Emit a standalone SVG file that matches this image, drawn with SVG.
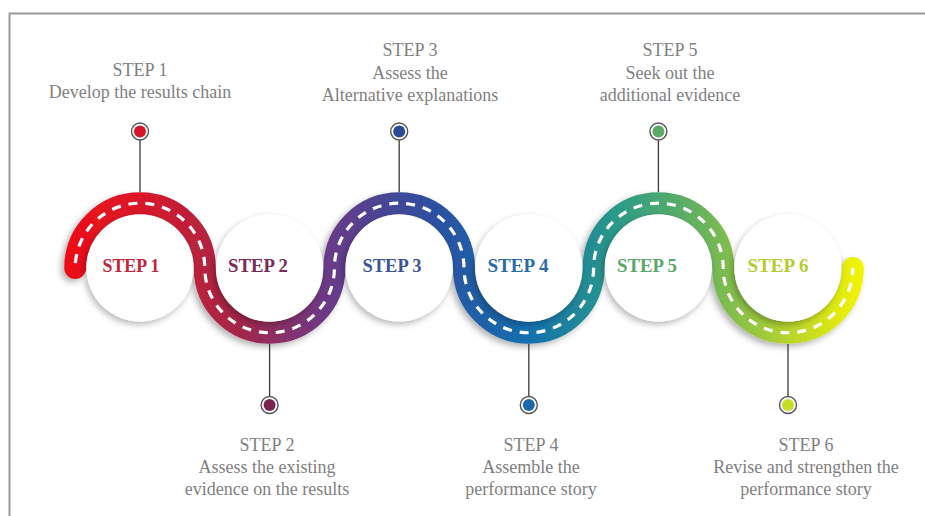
<svg xmlns="http://www.w3.org/2000/svg" width="925" height="516" viewBox="0 0 925 516">
  <style>
    .lbl { font-family: "Liberation Serif", "Times New Roman", serif; font-size: 18px; fill: #7f7f7f; text-anchor: middle; }
    .stp { font-family: "Liberation Serif", "Times New Roman", serif; font-size: 19px; font-weight: bold; text-anchor: middle; }
    .disc { fill: #ffffff; filter: url(#cshadow); }
    .stem { stroke: #3a3a3a; stroke-width: 1.3; fill: none; }
    .ring { fill: #ffffff; stroke: #555555; stroke-width: 1.4; }
  </style>
  <defs>
    <linearGradient id="road" gradientUnits="userSpaceOnUse" x1="64" y1="0" x2="865" y2="0">
      <stop offset="0" stop-color="#ee0e16"/>
      <stop offset="0.1" stop-color="#d8182a"/>
      <stop offset="0.22" stop-color="#a3284a"/>
      <stop offset="0.33" stop-color="#6a3a88"/>
      <stop offset="0.46" stop-color="#2c50a0"/>
      <stop offset="0.58" stop-color="#1470b0"/>
      <stop offset="0.69" stop-color="#2a9a88"/>
      <stop offset="0.8" stop-color="#6ab45a"/>
      <stop offset="0.9" stop-color="#b4d230"/>
      <stop offset="1" stop-color="#f6f600"/>
    </linearGradient>
    <filter id="cshadow" x="-30%" y="-30%" width="160%" height="160%">
      <feDropShadow dx="-2" dy="3" stdDeviation="3" flood-color="#000" flood-opacity="0.28"/>
    </filter>
    <filter id="rshadow" x="-10%" y="-30%" width="120%" height="160%">
      <feDropShadow dx="-3" dy="3" stdDeviation="3" flood-color="#000" flood-opacity="0.3"/>
    </filter>
  </defs>

  <rect x="9.5" y="13.5" width="1000" height="600" fill="none" stroke="#999999" stroke-width="2"/>

  <g id="connectors">
    <path d="M75.2,268 A64.8,64.8 0 0 1 204.8,268 A64.8,64.8 0 0 0 334.4,268 A64.8,64.8 0 0 1 464,268 A64.8,64.8 0 0 0 593.6,268 A64.8,64.8 0 0 1 723.2,268 A64.8,64.8 0 0 0 852.8,268" fill="none" stroke="url(#road)" stroke-width="22" stroke-linecap="round" filter="url(#rshadow)"/>
    <path d="M75.2,268 A64.8,64.8 0 0 1 204.8,268 A64.8,64.8 0 0 0 334.4,268 A64.8,64.8 0 0 1 464,268 A64.8,64.8 0 0 0 593.6,268 A64.8,64.8 0 0 1 723.2,268 A64.8,64.8 0 0 0 852.8,268" fill="none" stroke="#ffffff" stroke-width="3.2" stroke-dasharray="9 8" stroke-dashoffset="-5"/>
    <line class="stem" x1="140" y1="140" x2="140" y2="192"/>
    <line class="stem" x1="269.6" y1="344" x2="269.6" y2="397"/>
    <line class="stem" x1="399.2" y1="140" x2="399.2" y2="192"/>
    <line class="stem" x1="528.8" y1="344" x2="528.8" y2="397"/>
    <line class="stem" x1="658.4" y1="140" x2="658.4" y2="192"/>
    <line class="stem" x1="788" y1="344" x2="788" y2="397"/>
  </g>

  <g id="step1">
    <circle class="disc" cx="140" cy="268" r="53.5"/>
    <text class="stp" x="131" y="272" fill="#c3243a" textLength="57" lengthAdjust="spacingAndGlyphs">STEP 1</text>
    <circle class="ring" cx="140" cy="131.5" r="8.5"/>
    <circle cx="140" cy="131.5" r="6" fill="#d5162a"/>
    <text class="lbl" x="140" y="76">STEP 1</text>
    <text class="lbl" x="140" y="98">Develop the results chain</text>
  </g>

  <g id="step2">
    <circle class="disc" cx="269.6" cy="268" r="53.5"/>
    <text class="stp" x="258" y="272" fill="#7a2a58" textLength="60" lengthAdjust="spacingAndGlyphs">STEP 2</text>
    <circle class="ring" cx="269.6" cy="405" r="8.5"/>
    <circle cx="269.6" cy="405" r="6" fill="#7a2450"/>
    <text class="lbl" x="267" y="451">STEP 2</text>
    <text class="lbl" x="267" y="473">Assess the existing</text>
    <text class="lbl" x="267" y="495">evidence on the results</text>
  </g>

  <g id="step3">
    <circle class="disc" cx="399.2" cy="268" r="53.5"/>
    <text class="stp" x="392" y="272" fill="#3c5598" textLength="59" lengthAdjust="spacingAndGlyphs">STEP 3</text>
    <circle class="ring" cx="399.2" cy="131.5" r="8.5"/>
    <circle cx="399.2" cy="131.5" r="6" fill="#2a4a98"/>
    <text class="lbl" x="410" y="56">STEP 3</text>
    <text class="lbl" x="410" y="79">Assess the</text>
    <text class="lbl" x="410" y="101">Alternative explanations</text>
  </g>

  <g id="step4">
    <circle class="disc" cx="528.8" cy="268" r="53.5"/>
    <text class="stp" x="518" y="272" fill="#2a6aa8" textLength="61" lengthAdjust="spacingAndGlyphs">STEP 4</text>
    <circle class="ring" cx="528.8" cy="405" r="8.5"/>
    <circle cx="528.8" cy="405" r="6" fill="#1a6aaa"/>
    <text class="lbl" x="531" y="451">STEP 4</text>
    <text class="lbl" x="531" y="473">Assemble the</text>
    <text class="lbl" x="531" y="495">performance story</text>
  </g>

  <g id="step5">
    <circle class="disc" cx="658.4" cy="268" r="53.5"/>
    <text class="stp" x="647" y="272" fill="#5aa868" textLength="60" lengthAdjust="spacingAndGlyphs">STEP 5</text>
    <circle class="ring" cx="658.4" cy="131.5" r="8.5"/>
    <circle cx="658.4" cy="131.5" r="6" fill="#5aaa68"/>
    <text class="lbl" x="670" y="56">STEP 5</text>
    <text class="lbl" x="670" y="79">Seek out the</text>
    <text class="lbl" x="670" y="101">additional evidence</text>
  </g>

  <g id="step6">
    <circle class="disc" cx="788" cy="268" r="53.5"/>
    <text class="stp" x="778" y="272" fill="#b4cc2e" textLength="61" lengthAdjust="spacingAndGlyphs">STEP 6</text>
    <circle class="ring" cx="788" cy="405" r="8.5"/>
    <circle cx="788" cy="405" r="6" fill="#c8dc28"/>
    <text class="lbl" x="806" y="451">STEP 6</text>
    <text class="lbl" x="806" y="473">Revise and strengthen the</text>
    <text class="lbl" x="806" y="495">performance story</text>
  </g>
</svg>
